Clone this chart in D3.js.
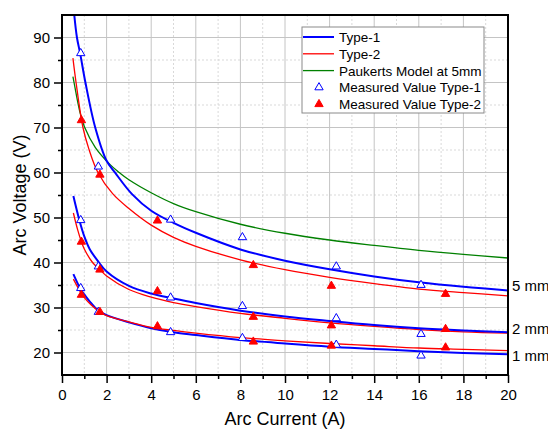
<!DOCTYPE html>
<html>
<head>
<meta charset="utf-8">
<script src="https://cdn.jsdelivr.net/npm/d3@7"></script>
<style>
  body { margin: 0; background: #fff; }
  svg { display: block; }
  text { font-family: "Liberation Sans", Arial, sans-serif; }
</style>
</head>
<body>
<svg id="chart" width="548" height="432"></svg>
<script>
// Fitted arc-voltage curves, [current (A), voltage (V)]
const type1Fit5mm = [[0.55,95],[0.67,90],[0.82,86.3],[1.05,80],[1.49,70],[2,62.6],[2.39,59.9],[3.14,55.2],[4,51.5],[5,48.8],[6,46.6],[8,42.9],[10,40.4],[12,38.5],[14,36.9],[16,35.6],[18,34.6],[20,33.8]];
const type2Fit5mm = [[0.49,85.4],[0.63,80],[0.94,70],[1.2,65.3],[1.61,60],[2.27,55.3],[3,52],[4,48.3],[5,45.6],[6,43.6],[8,40.6],[10,38.4],[12,36.7],[14,35.3],[16,34.1],[18,33.3],[20,32.6]];
const paukert5mm   = [[0.49,81.3],[0.54,80],[0.8,73.5],[1.02,70],[1.49,65.6],[2.17,61.7],[2.57,60],[3,58.4],[4.04,55.4],[5,53.1],[6,51.3],[8,48.5],[10,46.5],[12,45.0],[14,43.8],[16,42.7],[18,41.8],[20,41.0]];
const type1Fit2mm = [[0.51,54.8],[0.78,49.4],[1,45.8],[1.25,42.9],[1.66,40],[2,38],[3,34.8],[4,33.1],[5,32.0],[6,31.0],[8,29.3],[10,28.0],[12,27.0],[14,26.1],[16,25.4],[18,24.9],[20,24.5]];
const type2Fit2mm = [[0.51,51.0],[0.7,47.3],[0.87,44.6],[1,43.0],[1.37,40],[1.7,38.4],[2,37.0],[3,34.0],[4,32.3],[5,31.1],[6,30.2],[8,28.7],[10,27.6],[12,26.6],[14,25.8],[16,25.1],[18,24.6],[20,24.3]];
const type1Fit1mm = [[0.51,37.4],[0.84,34.0],[1,32.9],[1.3,31.0],[1.63,29.3],[2,28.3],[3,26.7],[4,25.4],[5,24.5],[6,23.9],[8,22.8],[10,22.0],[12,21.3],[14,20.8],[16,20.3],[18,19.9],[20,19.6]];
const type2Fit1mm = [[0.51,36.3],[0.88,33.0],[1,32.2],[1.3,30.6],[1.7,29.0],[2,28.2],[3,26.8],[4,25.6],[5,24.9],[6,24.3],[8,23.3],[10,22.6],[12,22.0],[14,21.5],[16,21.0],[18,20.7],[20,20.4]];

// Measured values
const measuredCurrentType1 = [0.84, 1.63, 4.87, 8.09, 12.3, 16.1];
const measuredType1_5mm = [86.5, 61.3, 49.5, 45.6, 39.1, 35.0];
const measuredType1_2mm = [49.4, 39.1, 32.2, 30.3, 27.6, 24.1];
const measuredType1_1mm = [34.3, 29.0, 24.5, 23.2, 21.7, 19.3];
const measuredCurrentType2 = [0.87, 1.7, 4.28, 8.58, 12.08, 17.2];
const measuredType2_5mm = [71.6, 59.5, 49.3, 39.4, 34.8, 33.0];
const measuredType2_2mm = [44.6, 38.4, 33.6, 27.9, 26.0, 25.2];
const measuredType2_1mm = [32.8, 29.0, 25.8, 22.4, 21.5, 21.1];

// Axes and labels
const xTicks = [0, 2, 4, 6, 8, 10, 12, 14, 16, 18, 20];
const xMinorTicks = [1, 3, 5, 7, 9, 11, 13, 15, 17, 19];
const yTicks = [20, 30, 40, 50, 60, 70, 80, 90];
const yMinorTicks = [25, 35, 45, 55, 65, 75, 85];
const gapLabels = ["5 mm", "2 mm", "1 mm"];
const gapLabelVoltage = [33.7, 24.1, 18.1];
const legendLabels = ["Type-1", "Type-2", "Paukerts Model at 5mm", "Measured Value Type-1", "Measured Value Type-2"];

const BLUE = "#0000ff", RED = "#ff0000", GREEN = "#008000";

const svg = d3.select("#chart");
const plot = { left: 62, right: 508, top: 15, bottom: 375 };

const x = d3.scaleLinear().domain([0, 20]).range([plot.left, plot.right]);
const y = d3.scaleLinear().domain([15, 95]).range([plot.bottom, plot.top]);

// grid: dashed minor lines, solid major lines
const grid = svg.append("g");
grid.append("g").selectAll("line").data(xMinorTicks).join("line")
  .attr("x1", d => x(d)).attr("x2", d => x(d)).attr("y1", plot.top).attr("y2", plot.bottom)
  .attr("stroke", "#d9d9d9").attr("stroke-width", 1).attr("stroke-dasharray", "2,2");
grid.append("g").selectAll("line").data(yMinorTicks).join("line")
  .attr("y1", d => y(d)).attr("y2", d => y(d)).attr("x1", plot.left).attr("x2", plot.right)
  .attr("stroke", "#d9d9d9").attr("stroke-width", 1).attr("stroke-dasharray", "2,2");
grid.append("g").selectAll("line").data(xTicks.slice(1, -1)).join("line")
  .attr("x1", d => x(d)).attr("x2", d => x(d)).attr("y1", plot.top).attr("y2", plot.bottom)
  .attr("stroke", "#c4c4c4").attr("stroke-width", 1);
grid.append("g").selectAll("line").data(yTicks).join("line")
  .attr("y1", d => y(d)).attr("y2", d => y(d)).attr("x1", plot.left).attr("x2", plot.right)
  .attr("stroke", "#c4c4c4").attr("stroke-width", 1);

// clip for curves
svg.append("clipPath").attr("id", "plotClip").append("rect")
  .attr("x", plot.left).attr("y", plot.top)
  .attr("width", plot.right - plot.left).attr("height", plot.bottom - plot.top);

const line = d3.line().x(d => x(d[0])).y(d => y(d[1])).curve(d3.curveCatmullRom.alpha(0.5));
const curves = svg.append("g").attr("clip-path", "url(#plotClip)");
const curveDefs = [
  [paukert5mm, GREEN, 1.3],
  [type2Fit5mm, RED, 1.3],
  [type2Fit2mm, RED, 1.3],
  [type1Fit1mm, BLUE, 2],
  [type1Fit5mm, BLUE, 2],
  [type1Fit2mm, BLUE, 2],
  [type2Fit1mm, RED, 1.3]
];
curves.selectAll("path").data(curveDefs).join("path")
  .attr("d", d => line(d[0])).attr("fill", "none")
  .attr("stroke", d => d[1]).attr("stroke-width", d => d[2]);

// markers
const tri = d3.symbol().type(d3.symbolTriangle).size(30);
const marks = svg.append("g");
[measuredType1_5mm, measuredType1_2mm, measuredType1_1mm].forEach(series => {
  marks.append("g").selectAll("path").data(series).join("path")
    .attr("d", tri)
    .attr("transform", (v, i) => `translate(${x(measuredCurrentType1[i])},${y(v)})`)
    .attr("fill", "#fff").attr("stroke", BLUE).attr("stroke-width", 1);
});
[measuredType2_5mm, measuredType2_2mm, measuredType2_1mm].forEach(series => {
  marks.append("g").selectAll("path").data(series).join("path")
    .attr("d", tri)
    .attr("transform", (v, i) => `translate(${x(measuredCurrentType2[i])},${y(v)})`)
    .attr("fill", RED).attr("stroke", RED).attr("stroke-width", 1);
});

// axes
const axisFont = g => g.selectAll("text").attr("font-size", 15).attr("fill", "#000")
  .attr("font-family", "'Liberation Sans', Arial, sans-serif");
svg.append("g").attr("transform", `translate(0,${plot.bottom})`)
  .call(d3.axisBottom(x).tickValues(xTicks).tickSize(8).tickPadding(6).tickFormat(d3.format("d")))
  .call(axisFont);
svg.append("g").attr("transform", `translate(0,${plot.bottom})`)
  .call(d3.axisBottom(x).tickValues(xMinorTicks).tickSize(4).tickFormat(""));
svg.append("g").attr("transform", `translate(${plot.left},0)`)
  .call(d3.axisLeft(y).tickValues(yTicks).tickSize(8).tickPadding(4).tickFormat(d3.format("d")))
  .call(axisFont);
svg.append("g").attr("transform", `translate(${plot.left},0)`)
  .call(d3.axisLeft(y).tickValues(yMinorTicks).tickSize(4).tickFormat(""));
svg.selectAll(".tick line").attr("stroke", "#000").attr("stroke-width", 1.5);
svg.selectAll(".domain").attr("stroke", "none");

// frame
svg.append("rect").attr("x", plot.left).attr("y", plot.top)
  .attr("width", plot.right - plot.left).attr("height", plot.bottom - plot.top)
  .attr("fill", "none").attr("stroke", "#000").attr("stroke-width", 2);

// axis titles
svg.append("text").attr("x", (plot.left + plot.right) / 2).attr("y", 425).attr("text-anchor", "middle")
  .attr("font-size", 18).text("Arc Current (A)");
svg.append("text").attr("transform", `translate(26,${(plot.top + plot.bottom) / 2}) rotate(-90)`)
  .attr("text-anchor", "middle").attr("font-size", 18).text("Arc Voltage (V)");

// gap labels on the right
svg.append("g").selectAll("text").data(gapLabels).join("text")
  .attr("x", 512).attr("y", (d, i) => y(gapLabelVoltage[i]))
  .attr("font-family", "'Liberation Serif', 'Times New Roman', serif").attr("font-size", 15)
  .text(d => d);

// legend
const lg = svg.append("g");
lg.append("rect").attr("x", 302).attr("y", 27).attr("width", 182).attr("height", 86)
  .attr("fill", "#fff").attr("stroke", "#8a8a8a").attr("stroke-width", 1);
const rowY = i => 37 + i * 16.8;
const legendStyles = [
  {type: "line", color: BLUE, w: 2},
  {type: "line", color: RED, w: 1.3},
  {type: "line", color: GREEN, w: 1.3},
  {type: "open", color: BLUE},
  {type: "filled", color: RED}
];
legendLabels.forEach((lab, i) => {
  const st = legendStyles[i];
  if (st.type === "line") {
    lg.append("line").attr("x1", 303).attr("x2", 334).attr("y1", rowY(i)).attr("y2", rowY(i))
      .attr("stroke", st.color).attr("stroke-width", st.w);
  } else {
    lg.append("path").attr("d", tri).attr("transform", `translate(319,${rowY(i)})`)
      .attr("fill", st.type === "open" ? "#fff" : st.color).attr("stroke", st.color).attr("stroke-width", 1);
  }
  lg.append("text").attr("x", 339).attr("y", rowY(i) + 5).attr("font-size", 13.5).text(lab);
});
</script>
</body>
</html>
